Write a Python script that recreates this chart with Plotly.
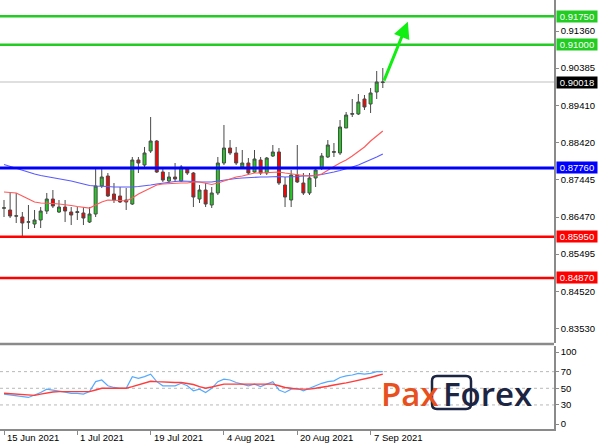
import plotly.graph_objects as go
import pandas as pd

# ---------------- data ----------------
dates = [d.strftime('%Y-%m-%d') for d in pd.bdate_range('2021-06-15', periods=63)]

open_ = [0.86700, 0.86656, 0.86505, 0.86472, 0.86335, 0.86288, 0.86393, 0.86629, 0.86945, 0.86603,
         0.86734, 0.86603, 0.86590, 0.86577, 0.86340, 0.86550, 0.87287, 0.87549, 0.87076, 0.87024,
         0.86919, 0.86813, 0.87970, 0.87838, 0.88206, 0.88469, 0.87654, 0.87418, 0.87523, 0.87418,
         0.87733, 0.87628, 0.86945, 0.87181, 0.86787, 0.87103, 0.87891, 0.88285, 0.88154, 0.87786,
         0.87891, 0.87654, 0.87970, 0.87628, 0.88075, 0.88180, 0.87313, 0.86919, 0.87576, 0.87365,
         0.87103, 0.87497, 0.87760, 0.88049, 0.88170, 0.88154, 0.88811, 0.89170, 0.89179, 0.89573,
         0.89442, 0.89757, 0.90005]
high = [0.86919, 0.87103, 0.87103, 0.86603, 0.86787, 0.86656, 0.86734, 0.87103, 0.87181, 0.86919,
        0.86919, 0.86734, 0.86734, 0.86734, 0.86734, 0.87760, 0.87760, 0.87628, 0.87365, 0.87260,
        0.87234, 0.88049, 0.88049, 0.88312, 0.89100, 0.88495, 0.87760, 0.87654, 0.87891, 0.87838,
        0.87786, 0.87654, 0.87313, 0.87365, 0.87260, 0.88049, 0.88890, 0.88495, 0.88312, 0.88233,
        0.88022, 0.88233, 0.88049, 0.88049, 0.88364, 0.88285, 0.87523, 0.87707, 0.88364, 0.87628,
        0.87628, 0.87786, 0.88154, 0.88495, 0.88416, 0.89021, 0.89231, 0.89573, 0.89704, 0.89678,
        0.89862, 0.90309, 0.90388]
low = [0.86472, 0.86445, 0.86314, 0.85972, 0.86156, 0.86182, 0.86182, 0.86550, 0.86708, 0.86577,
       0.86340, 0.86261, 0.86393, 0.86261, 0.86314, 0.86472, 0.87234, 0.86997, 0.86840, 0.86840,
       0.86656, 0.86787, 0.87628, 0.87786, 0.88154, 0.87628, 0.87392, 0.87365, 0.87392, 0.87392,
       0.87576, 0.86734, 0.86840, 0.86734, 0.86708, 0.87050, 0.87838, 0.88101, 0.87838, 0.87760,
       0.87576, 0.87628, 0.87576, 0.87576, 0.88049, 0.87313, 0.86734, 0.86734, 0.87365, 0.87050,
       0.87050, 0.87260, 0.87707, 0.88022, 0.88049, 0.88101, 0.88811, 0.89100, 0.89152, 0.89284,
       0.89205, 0.89573, 0.89862]
close = [0.86715, 0.86498, 0.86495, 0.86314, 0.86345, 0.86393, 0.86629, 0.86945, 0.86761, 0.86734,
         0.86629, 0.86524, 0.86610, 0.86445, 0.86550, 0.87287, 0.87523, 0.87024, 0.86919, 0.86866,
         0.86866, 0.87970, 0.87891, 0.88154, 0.88469, 0.87654, 0.87444, 0.87523, 0.87470, 0.87786,
         0.87628, 0.86997, 0.87181, 0.86813, 0.87103, 0.87891, 0.88285, 0.88154, 0.87891, 0.87891,
         0.87628, 0.87996, 0.87628, 0.88022, 0.88180, 0.87365, 0.86997, 0.87576, 0.87392, 0.87103,
         0.87497, 0.87707, 0.88075, 0.88364, 0.88190, 0.88837, 0.89152, 0.89190, 0.89494, 0.89363,
         0.89731, 0.90020, 0.90018]

ma_fast = [0.87129, 0.87116, 0.87103, 0.87024, 0.86945, 0.86866, 0.86840, 0.86840, 0.86827, 0.86813,
           0.86800, 0.86774, 0.86748, 0.86721, 0.86708, 0.86787, 0.86866, 0.86919, 0.86919, 0.86905,
           0.86892, 0.86971, 0.87076, 0.87155, 0.87234, 0.87313, 0.87339, 0.87352, 0.87365, 0.87365,
           0.87365, 0.87392, 0.87392, 0.87365, 0.87326, 0.87365, 0.87418, 0.87470, 0.87523, 0.87549,
           0.87589, 0.87628, 0.87628, 0.87641, 0.87654, 0.87654, 0.87628, 0.87602, 0.87576, 0.87562,
           0.87549, 0.87562, 0.87602, 0.87707, 0.87799, 0.87891, 0.87970, 0.88075, 0.88193, 0.88312,
           0.88469, 0.88601, 0.88732]
ma_slow = [0.87852, 0.87799, 0.87747, 0.87694, 0.87655, 0.87602, 0.87563, 0.87536, 0.87510, 0.87484,
           0.87457, 0.87418, 0.87378, 0.87339, 0.87299, 0.87286, 0.87286, 0.87273, 0.87260, 0.87260,
           0.87247, 0.87260, 0.87273, 0.87286, 0.87313, 0.87339, 0.87365, 0.87392, 0.87405, 0.87418,
           0.87418, 0.87405, 0.87392, 0.87392, 0.87392, 0.87418, 0.87444, 0.87470, 0.87484, 0.87497,
           0.87510, 0.87523, 0.87523, 0.87523, 0.87536, 0.87536, 0.87523, 0.87523, 0.87536, 0.87549,
           0.87549, 0.87562, 0.87589, 0.87615, 0.87655, 0.87694, 0.87734, 0.87786, 0.87839, 0.87904,
           0.87970, 0.88049, 0.88128]

rsi = [43, 42, 41, 40, 39, 42, 45, 49, 48, 47, 45.5, 44, 44, 43, 46, 58, 60, 53, 51, 50,
       50, 64, 62, 64, 67, 58, 53, 53, 53, 56, 53, 47, 49, 45, 50, 58, 61, 60, 57, 55,
       53, 55, 52, 55, 58, 48, 45, 49, 50, 47, 50, 53, 56, 58, 59, 63, 65, 66, 68, 67,
       68, 70, 70]
rsi_signal = [44, 43.5, 43, 42.5, 42, 41.5, 43, 44.5, 45.5, 46, 46, 46, 46, 46, 46, 48, 50, 50, 50, 50,
              50, 52, 54, 56, 58.5, 58, 57.5, 57, 57, 57, 56, 54.5, 52, 50, 51.5, 53.5, 55, 55, 55, 55,
              55, 55, 55, 55, 55, 53, 51, 50, 49, 49, 49, 50, 51, 52.5, 54, 55, 56.5, 58, 59.5, 61,
              63, 65, 67]

levels = [0.91750, 0.91000, 0.87760, 0.85950, 0.84870]
level_colors = ['#22cc22', '#22cc22', '#0000ff', '#ff0000', '#ff0000']
level_widths = [2.5, 2.5, 3, 2.5, 2.5]
arrow_target = 0.91604

price_ticks = [0.91360, 0.90385, 0.89410, 0.88420, 0.87445, 0.86470, 0.85495, 0.84520, 0.83530]
rsi_levels = [70, 50, 30]
rsi_tickvals = [93.5, 70, 50, 30, 7]
rsi_ticktext = ['100', '70', '50', '30', '0']
date_ticks = ['2021-06-15', '2021-07-01', '2021-07-19', '2021-08-04', '2021-08-20', '2021-09-07']
date_labels = ['15 Jun 2021', '1 Jul 2021', '19 Jul 2021', '4 Aug 2021', '20 Aug 2021', '7 Sep 2021']

# ---------------- figure ----------------
FONT = 'Liberation Sans, Arial, sans-serif'
W, H = 602, 445
ML, MR, MT, MB = 0, 48, 0, 16
PH = H - MT - MB
XR = [-0.655, 90.02]

fig = go.Figure()
fig.add_trace(go.Candlestick(
    x=dates, open=open_, high=high, low=low, close=close,
    increasing=dict(line=dict(color='#4a4a4a', width=1), fillcolor='#22cc22'),
    decreasing=dict(line=dict(color='#4a4a4a', width=1), fillcolor='#ff0000'),
    whiskerwidth=0, showlegend=False, xaxis='x', yaxis='y'))
fig.add_trace(go.Scatter(x=dates, y=ma_slow, mode='lines', line=dict(color='#5a5aff', width=1.2),
                         showlegend=False, xaxis='x', yaxis='y'))
fig.add_trace(go.Scatter(x=dates, y=ma_fast, mode='lines', line=dict(color='#ff5a5a', width=1.2),
                         showlegend=False, xaxis='x', yaxis='y'))
fig.add_trace(go.Scatter(x=dates, y=rsi, mode='lines', line=dict(color='#55aaff', width=1.2),
                         showlegend=False, xaxis='x2', yaxis='y2'))
fig.add_trace(go.Scatter(x=dates, y=rsi_signal, mode='lines', line=dict(color='#ff3b3b', width=1.4),
                         showlegend=False, xaxis='x2', yaxis='y2'))

shapes = []
shapes.append(dict(type='line', xref='paper', x0=0, x1=1, yref='y', y0=close[-1], y1=close[-1],
                   line=dict(color='#d4d4d4', width=1.5), layer='below'))
for lv, c, w in zip(levels, level_colors, level_widths):
    shapes.append(dict(type='line', xref='paper', x0=0, x1=1, yref='y', y0=lv, y1=lv,
                       line=dict(color=c, width=w)))
for lv in rsi_levels:
    shapes.append(dict(type='line', xref='paper', x0=0, x1=1, yref='y2', y0=lv, y1=lv,
                       line=dict(color='#b8b8b8', width=1, dash='dot'), layer='below'))
sep_y = (PH - 344) / PH
shapes.append(dict(type='line', xref='paper', x0=0, x1=1, yref='paper', y0=sep_y, y1=sep_y,
                   line=dict(color='#8a8a8a', width=2.5)))


def px2paper(px, py):
    return px / (W - ML - MR), (PH - py) / PH


bx0, by0 = px2paper(432, 409)
bx1, by1 = px2paper(471, 376)
rx, ry = 5 / (W - MR), 5 / PH
path = (f"M{bx0+rx},{by0} L{bx1-rx},{by0} Q{bx1},{by0} {bx1},{by0+ry} L{bx1},{by1-ry} "
        f"Q{bx1},{by1} {bx1-rx},{by1} L{bx0+rx},{by1} Q{bx0},{by1} {bx0},{by1-ry} "
        f"L{bx0},{by0+ry} Q{bx0},{by0} {bx0+rx},{by0} Z")
shapes.append(dict(type='path', xref='paper', yref='paper', path=path,
                   line=dict(color='#1c2541', width=2.5), fillcolor='rgba(0,0,0,0)'))

annotations = []
for lv, c in zip(levels, level_colors):
    annotations.append(dict(xref='paper', x=1, xanchor='left', xshift=2, yref='y', y=lv,
                            text=f'{lv:.5f}', showarrow=False, bgcolor=c, width=40, height=11,
                            borderpad=0, font=dict(family=FONT, size=9.5, color='white')))
annotations.append(dict(xref='paper', x=1, xanchor='left', xshift=2, yref='y', y=close[-1],
                        text=f'{close[-1]:.5f}', showarrow=False, bgcolor='#000000', width=40, height=11,
                        borderpad=0, font=dict(family=FONT, size=9.5, color='white')))
for d, lab in zip(date_ticks, date_labels):
    annotations.append(dict(xref='x2', x=dates.index(d), xanchor='left', xshift=1, yref='paper', y=0,
                            yanchor='top', yshift=-1, text=lab, showarrow=False,
                            font=dict(family=FONT, size=9.5, color='#000000')))
annotations.append(dict(xref='x', yref='y', x=len(dates) - 1 + 4.1, y=arrow_target,
                        axref='x', ayref='y', ax=len(dates) - 1 + 0.1, ay=close[-1],
                        text='', showarrow=True, arrowhead=2, arrowsize=1.1, arrowwidth=3,
                        arrowcolor='#11ee11'))
lx, ly = px2paper(441, 393)
annotations.append(dict(xref='paper', yref='paper', x=lx, y=ly, xanchor='right', yanchor='middle',
                        text='Pax', showarrow=False,
                        font=dict(family='Open Sans', size=33, color='#e8501e', weight=600)))
lx2, _ = px2paper(441, 393)
annotations.append(dict(xref='paper', yref='paper', x=lx2, y=ly, xanchor='left', yanchor='middle',
                        text='Forex', showarrow=False,
                        font=dict(family='Open Sans', size=33, color='#1c2541', weight=600)))

fig.update_layout(
    width=W, height=H, margin=dict(l=ML, r=MR, t=MT, b=MB),
    paper_bgcolor='white', plot_bgcolor='white',
    shapes=shapes, annotations=annotations, showlegend=False,
    font=dict(family=FONT, size=9.5, color='#000000'),
    xaxis=dict(type='category', domain=[0, 1], anchor='y', range=XR, visible=False,
               rangeslider=dict(visible=False), showgrid=False),
    xaxis2=dict(type='category', domain=[0, 1], anchor='y2', range=XR, matches='x',
                showgrid=False, showline=True, linecolor='#8a8a8a', linewidth=1.5,
                ticks='outside', ticklen=4, tickcolor='#8a8a8a', tickvals=date_ticks,
                showticklabels=False, zeroline=False),
    yaxis=dict(domain=[(PH - 343) / PH, 1], anchor='x', side='right',
               range=[0.831606, 0.921747], showgrid=False, zeroline=False,
               showline=True, linecolor='#8a8a8a', linewidth=1.5,
               ticks='outside', ticklen=3, tickcolor='#8a8a8a',
               tickvals=price_ticks, ticktext=[f'{v:.5f}' for v in price_ticks],
               tickfont=dict(family=FONT, size=9.5, color='#000000')),
    yaxis2=dict(domain=[0, (PH - 346) / PH], anchor='x2', side='right',
                range=[1.1, 100.8], showgrid=False, zeroline=False,
                showline=True, linecolor='#8a8a8a', linewidth=1.5,
                ticks='outside', ticklen=3, tickcolor='#8a8a8a',
                tickvals=rsi_tickvals, ticktext=rsi_ticktext,
                tickfont=dict(family=FONT, size=9.5, color='#000000')),
)

fig.write_html('out.html', config={'displayModeBar': False},
               post_script="document.body.style.margin='0px';document.body.style.overflow='hidden';")
